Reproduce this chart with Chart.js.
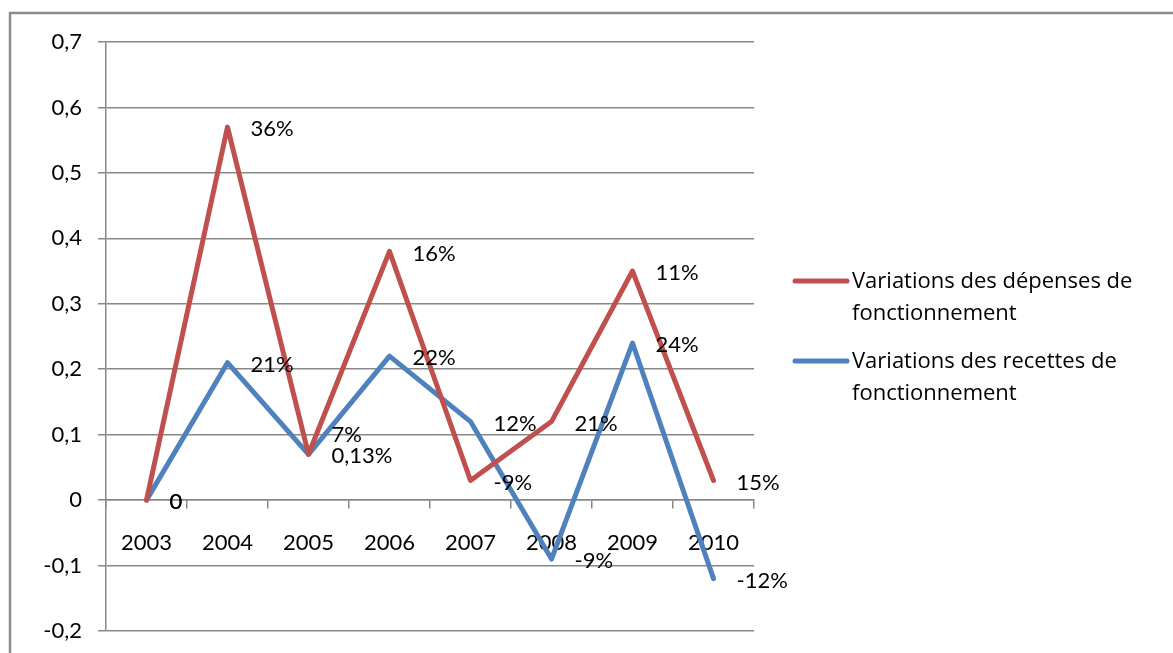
<!DOCTYPE html>
<html>
<head>
<meta charset="utf-8">
<script src="https://cdn.jsdelivr.net/npm/chart.js@4"></script>
<style>
  html, body { margin: 0; padding: 0; background: #fff; }
  #chart { display: block; }
</style>
</head>
<body>
<canvas id="chart" width="1173" height="653"></canvas>
<script>
const years = ['2003', '2004', '2005', '2006', '2007', '2008', '2009', '2010'];
const depenses = [0, 0.57, 0.07, 0.38, 0.03, 0.12, 0.35, 0.03];
const recettes = [0, 0.21, 0.07, 0.22, 0.12, -0.09, 0.24, -0.12];
const depensesLabels = ['0', '36%', '7%', '16%', '-9%', '21%', '11%', '15%'];
const recettesLabels = ['0', '21%', '0,13%', '22%', '12%', '-9%', '24%', '-12%'];
const seriesNames = ['Variations des dépenses de fonctionnement', 'Variations des recettes de fonctionnement'];

const FONT = 'Lato, "Open Sans", sans-serif';
const LEGEND_FONT = '"Open Sans", Lato, sans-serif';
const RED = '#C0504D';
const BLUE = '#4F81BD';
const GRID = '#888888';

// outer frame, like the Excel chart border
const framePlugin = {
  id: 'frame',
  beforeDraw(chart) {
    const ctx = chart.ctx;
    ctx.save();
    ctx.strokeStyle = '#8c8c8c';
    ctx.lineWidth = 2.5;
    ctx.strokeRect(10, 13, 1200, 700);
    ctx.restore();
  }
};

// value labels to the right of each point
const pointLabels = {
  id: 'pointLabels',
  afterDatasetsDraw(chart, args, opts) {
    const ctx = chart.ctx;
    ctx.save();
    ctx.font = '22px ' + FONT;
    ctx.fillStyle = '#000';
    ctx.textBaseline = 'middle';
    ctx.textAlign = 'left';
    chart.data.datasets.forEach((ds, di) => {
      const meta = chart.getDatasetMeta(di);
      meta.data.forEach((pt, i) => {
        const nudge = (opts.nudge[di] && opts.nudge[di][i]) || 0;
        ctx.fillText(ds.pointLabels[i], pt.x + 23, pt.y + 2 + nudge);
      });
    });
    ctx.restore();
  }
};

// legend on the right with wrapped labels
const sideLegend = {
  id: 'sideLegend',
  afterDraw(chart) {
    const ctx = chart.ctx;
    ctx.save();
    ctx.font = '22px ' + LEGEND_FONT;
    ctx.textBaseline = 'middle';
    let y = 281;
    chart.data.datasets.forEach(ds => {
      ctx.strokeStyle = ds.borderColor;
      ctx.lineWidth = 5;
      ctx.lineCap = 'round';
      ctx.beginPath();
      ctx.moveTo(795, y);
      ctx.lineTo(847, y);
      ctx.stroke();
      // wrap
      const words = ds.label.split(' ');
      const lines = [];
      let cur = '';
      words.forEach(w => {
        const t = cur ? cur + ' ' + w : w;
        if (ctx.measureText(t).width > 315 && cur) { lines.push(cur); cur = w; }
        else cur = t;
      });
      lines.push(cur);
      ctx.fillStyle = '#000';
      lines.forEach((l, k) => ctx.fillText(l, 852, y + 1 + k * 32));
      y += 80;
    });
    ctx.restore();
  }
};

new Chart(document.getElementById('chart'), {
  type: 'line',
  data: {
    labels: years,
    datasets: [
      {
        label: seriesNames[0],
        data: depenses,
        pointLabels: depensesLabels,
        borderColor: RED,
        backgroundColor: RED,
        borderWidth: 5,
        borderJoinStyle: 'round',
        borderCapStyle: 'round',
        pointRadius: 0,
        tension: 0,
      },
      {
        label: seriesNames[1],
        data: recettes,
        pointLabels: recettesLabels,
        borderColor: BLUE,
        backgroundColor: BLUE,
        borderWidth: 5,
        borderJoinStyle: 'round',
        borderCapStyle: 'round',
        pointRadius: 0,
        tension: 0,
      },
    ],
  },
  plugins: [framePlugin, pointLabels, sideLegend],
  options: {
    responsive: false,
    animation: false,
    layout: {
      padding: { left: 0, top: 42, right: 419, bottom: 22 },
    },
    scales: {
      y: {
        min: -0.2,
        max: 0.7,
        afterFit(scale) {
          scale.width = 106;
          scale.paddingTop = 0;
          scale.paddingBottom = 0;
        },
        ticks: {
          stepSize: 0.1,
          color: '#000',
          padding: 16,
          font: { family: FONT, size: 22 },
          callback: v => {
            const r = Math.round(v * 10) / 10;
            return r === 0 ? '0' : r.toFixed(1).replace('.', ',');
          },
        },
        grid: { color: GRID, lineWidth: 1.5, tickLength: 8 },
        border: { color: GRID, width: 1.5 },
      },
      x: {
        position: { y: 0 },
        offset: true,
        afterFit(scale) {
          scale.height = 0;
          scale.paddingLeft = 0;
          scale.paddingRight = 0;
        },
        ticks: {
          color: '#000',
          padding: 22,
          maxRotation: 0,
          font: { family: FONT, size: 22 },
        },
        grid: {
          offset: true,
          drawOnChartArea: false,
          color: GRID,
          lineWidth: 1.5,
          tickLength: 8,
        },
        border: { color: GRID, width: 1.5 },
      },
    },
    plugins: {
      legend: { display: false },
      tooltip: { enabled: false },
      pointLabels: {
        nudge: [[0, 0, -21, 0, 0, 0, 0, 0], []],
      },
    },
  },
});
</script>
</body>
</html>
